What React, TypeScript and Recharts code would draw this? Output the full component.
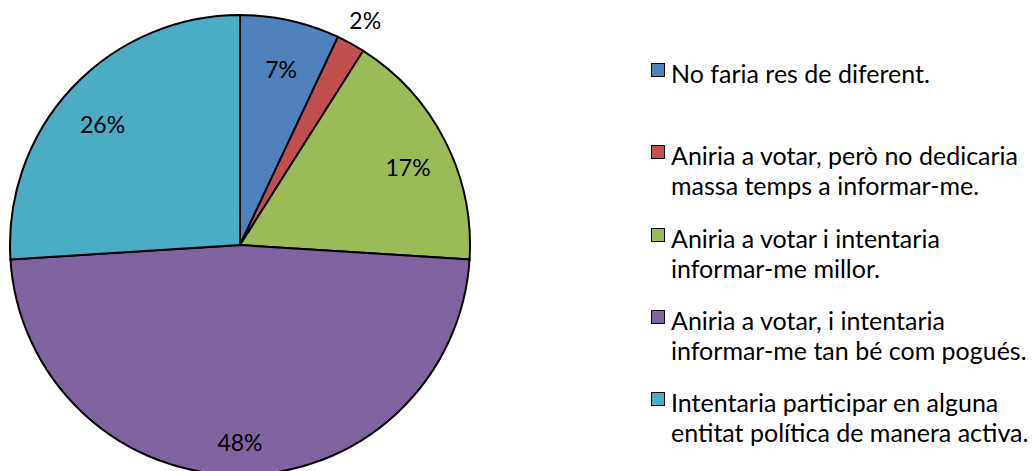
import React from 'react';
import { PieChart, Pie, Cell, Legend } from 'recharts';

const categories = [
  'No faria res de diferent.',
  'Aniria a votar, però no dedicaria\nmassa temps a informar-me.',
  'Aniria a votar i intentaria\ninformar-me millor.',
  'Aniria a votar, i intentaria\ninformar-me tan bé com pogués.',
  'Intentaria participar en alguna\nentitat política de manera activa.',
];
const values = [7, 2, 17, 48, 26];
const colors = ['#4F81BD', '#C0504D', '#9BBB59', '#8064A2', '#4BACC6'];
const legendTops = [60, 142, 225, 307, 389];

const data = categories.map((name, i) => ({ name, value: values[i] }));

if (typeof document !== 'undefined') document.body.style.margin = '0';

const FONT = 'Lato, "Open Sans", sans-serif';
const RAD = Math.PI / 180;

const renderLabel = (props: any) => {
  const { cx, cy, midAngle, outerRadius, percent } = props;
  const outside = percent < 0.05;
  const r = outside ? outerRadius * 1.13 : outerRadius * 0.82;
  const x = cx + r * Math.cos(-midAngle * RAD);
  const y = cy + r * Math.sin(-midAngle * RAD) + (outside ? 3 : 8);
  return (
    <text x={x} y={y} fill="#000" fontSize={23} fontFamily={FONT} textAnchor="middle" dominantBaseline="central">
      {`${Math.round(percent * 100)}%`}
    </text>
  );
};

const LegendContent = (props: any) => {
  const payload = [...(props.payload || [])].sort(
    (a: any, b: any) => categories.indexOf(a.value) - categories.indexOf(b.value)
  );
  return (
    <div style={{ position: 'relative', width: 380, height: 471, fontFamily: FONT, fontSize: 25, color: '#000' }}>
      {payload.map((p: any, i: number) => (
        <div key={i} style={{ position: 'absolute', top: legendTops[i], left: 0, display: 'flex', alignItems: 'flex-start' }}>
          <span style={{ width: 12, height: 12, marginTop: 3, marginRight: 6, background: p.color, border: '1.5px solid #000', flexShrink: 0 }} />
          <span style={{ whiteSpace: 'pre-line', lineHeight: '30px', marginTop: -2 }}>{p.value}</span>
        </div>
      ))}
    </div>
  );
};

export default function App() {
  return (
    <div style={{ width: 1032, height: 471, background: '#fff' }}>
      <PieChart width={1032} height={471} margin={{ top: 0, right: 0, bottom: 0, left: 0 }}>
        <Pie
          data={data}
          dataKey="value"
          nameKey="name"
          cx={240}
          cy={245}
          outerRadius={230}
          startAngle={90}
          endAngle={-270}
          stroke="#000"
          strokeWidth={2}
          label={renderLabel}
          labelLine={false}
          isAnimationActive={false}
        >
          {data.map((_, i) => (
            <Cell key={i} fill={colors[i]} />
          ))}
        </Pie>
        <Legend
          layout="vertical"
          verticalAlign="top"
          align="right"
          content={<LegendContent />}
          wrapperStyle={{ position: 'absolute', left: 651, top: 0, width: 380, height: 471 }}
        />
      </PieChart>
    </div>
  );
}
